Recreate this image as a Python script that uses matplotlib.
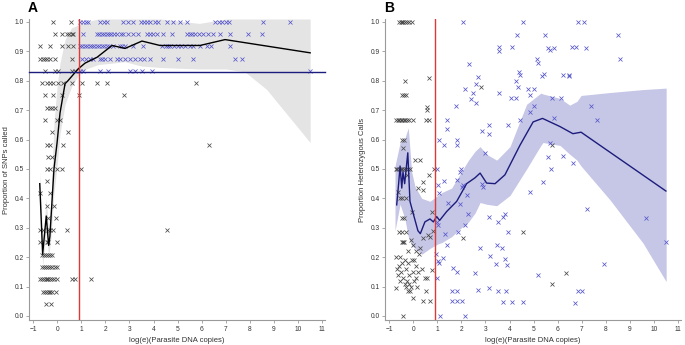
import matplotlib
matplotlib.use("Agg")
import matplotlib.pyplot as plt

plt.rcParams['font.family'] = ['Liberation Sans', 'DejaVu Sans']

# ---------- panel A data ----------
a_black_x = [-0.17, 0.58,
             -0.09, 0.2, 0.4, 0.5, 0.6, 0.66,
             -0.71, -0.29, 0.2, 0.45, 0.66,
             -0.71, -0.6, -0.5, -0.4, -0.3, -0.1, 0.62,
             -0.5, -0.09, 0.04, 0.62, 0.74,
             -0.63, -0.42, -0.29, -0.17, 0.04, 0.24, 0.62, 1.03, 1.66, 2.07, 5.76,
             -0.5, -0.17, 0.2, 0.91, 2.78,
             -0.42, -0.3, -0.2, -0.08,
             -0.5, 0.0, 0.12,
             -0.21, 0.45,
             -0.42, -0.29, 0.24, 6.3,
             -0.38, -0.2,
             -0.42, -0.29, 0.0, 0.2, 0.99,
             -0.42,
             -0.71, -0.29,
             -0.42, -0.13,
             -0.38, -0.05,
             -0.71, -0.58, -0.38, -0.29, -0.17, 0.41, 4.55,
             -0.71, -0.42, -0.38, 0.0,
             -0.63, -0.55, -0.47, -0.38, -0.3, -0.22,
             -0.63, -0.55, -0.47, -0.38, -0.3, -0.2, -0.1, 0.0,
             -0.7, -0.63, -0.55, -0.48, -0.42, -0.36, -0.3, -0.22, -0.12, 0.0, 0.62, 0.74, 1.4,
             -0.6, -0.5, -0.42, -0.35, -0.28, -0.2, -0.05,
             -0.46, -0.25]
a_black_y = [1.0, 1.0,
             0.958, 0.958, 0.958, 0.958, 0.958, 0.958,
             0.917, 0.917, 0.917, 0.917, 0.917,
             0.875, 0.875, 0.875, 0.875, 0.875, 0.875, 0.875,
             0.833, 0.833, 0.833, 0.833, 0.833,
             0.792, 0.792, 0.792, 0.792, 0.792, 0.792, 0.792, 0.792, 0.792, 0.792, 0.792,
             0.75, 0.75, 0.75, 0.75, 0.75,
             0.708, 0.708, 0.708, 0.708,
             0.667, 0.667, 0.667,
             0.625, 0.625,
             0.583, 0.583, 0.583, 0.583,
             0.542, 0.542,
             0.5, 0.5, 0.5, 0.5, 0.5,
             0.458,
             0.417, 0.417,
             0.375, 0.375,
             0.333, 0.333,
             0.292, 0.292, 0.292, 0.292, 0.292, 0.292, 0.292,
             0.25, 0.25, 0.25, 0.25,
             0.208, 0.208, 0.208, 0.208, 0.208, 0.208,
             0.167, 0.167, 0.167, 0.167, 0.167, 0.167, 0.167, 0.167,
             0.125, 0.125, 0.125, 0.125, 0.125, 0.125, 0.125, 0.125, 0.125, 0.125, 0.125, 0.125, 0.125,
             0.083, 0.083, 0.083, 0.083, 0.083, 0.083, 0.083,
             0.042, 0.042]

a_blue_x = [0.97, 1.08, 1.2, 1.3, 1.8, 1.95, 2.05, 2.75, 2.95, 3.15, 3.5, 3.6, 3.75, 3.85,
            4.05, 4.2, 4.55, 4.8, 5.1, 5.4, 6.55, 6.7, 6.85, 7.0, 7.15, 8.55, 9.65,
            1.07, 1.65, 1.75, 1.85, 1.95, 2.05, 2.15, 2.25, 2.35, 2.5, 2.65, 2.75, 2.95, 3.15,
            3.36, 3.75, 3.85, 3.98, 4.15, 4.4, 4.77, 5.4, 5.5, 5.6, 5.72, 5.88, 6.05, 6.28,
            6.45, 6.76, 7.17, 7.92, 8.5,
            0.95, 1.05, 1.15, 1.25, 1.35, 1.45, 1.55, 1.65, 1.75, 1.85, 1.95, 2.05, 2.15, 2.3,
            2.6, 2.7, 2.8, 3.15, 3.56, 4.35, 4.5, 4.6, 4.7, 4.85, 5.0, 5.15, 5.3, 5.5, 5.65,
            5.93, 6.2, 6.4, 7.17,
            1.03, 1.2, 1.35, 1.5, 1.78, 1.85, 2.0, 2.2, 2.5, 2.6, 2.82, 3.02, 3.23, 3.44, 3.6,
            3.85, 4.4, 5.02, 5.64, 7.38, 7.67,
            0.95, 1.07, 1.78, 2.11, 3.02, 3.23, 3.52, 3.94, 10.5]
a_blue_y = ([1.0] * 27 + [0.958] * 33 + [0.917] * 33 + [0.875] * 21 + [0.833] * 9)

a_fit_x = [-0.72, -0.6, -0.45, -0.35, -0.3, -0.13, 0.0, 0.12, 0.33, 0.45, 0.87, 1.16,
           1.66, 2.28, 2.82, 3.52, 4.27, 5.93, 6.97, 10.5]
a_fit_y = [0.45, 0.21, 0.34, 0.24, 0.27, 0.50, 0.59, 0.69, 0.79, 0.80, 0.84, 0.86,
           0.88, 0.92, 0.91, 0.935, 0.92, 0.92, 0.94, 0.895]

a_band_x = [-0.72, -0.6, -0.45, -0.35, -0.25, -0.13, 0.0, 0.12, 0.33, 0.6, 0.9, 1.2,
            1.7, 2.3, 2.8, 3.5, 4.3, 5.9, 7.0, 7.8, 8.7, 9.3, 10.5]
a_band_lo = [0.41, 0.17, 0.29, 0.20, 0.27, 0.42, 0.51, 0.62, 0.72, 0.78, 0.82, 0.84,
             0.855, 0.86, 0.865, 0.85, 0.845, 0.84, 0.84, 0.83, 0.77, 0.71, 0.59]
a_band_hi = [0.49, 0.26, 0.40, 0.29, 0.40, 0.66, 0.78, 0.86, 0.94, 0.98, 0.99, 1.0,
             1.01, 1.01, 1.01, 1.01, 1.01, 0.995, 1.01, 1.01, 1.01, 1.01, 1.01]

a_threshold_x = 0.92
a_threshold_y = 0.83

# ---------- panel B data ----------
b_black_x = [-0.58, -0.5, -0.45, -0.4, -0.33, -0.25, -0.15, -0.05,
             0.66, -0.33, -0.48, -0.38, -0.28, 0.58, 0.56,
             -0.72, -0.64, -0.57, -0.5, -0.44, -0.38, -0.32, -0.25, -0.15, 0.0, 0.53, 0.68,
             -0.47, -0.38, -0.42, 0.08, 0.3,
             -0.72, -0.66, -0.58, -0.5, -0.44, -0.38, -0.3, -0.22, -0.12, 0.88,
             -0.27, 0.66, 0.42, 0.2, 0.4, -0.62, -0.55, -0.45, -0.3,
             -0.06, 0.77, -0.45, -0.38, 0.84, -0.58, -0.45, -0.3, 0.6, 0.7, 0.42,
             -0.48, -0.42, -0.38, -0.1, 0.0, 0.12, -0.2, 0.25, 0.3,
             -0.7, -0.55, -0.35, -0.05, 0.05, -0.45, -0.2, -0.6, 0.1, -0.68, -0.3, 0.35,
             -0.5, 0.0, 0.2, 0.77, -0.62, -0.15, -0.4, 0.1, 0.5, 0.58,
             -0.55, -0.25, 0.05, -0.35, -0.18, -0.3, -0.1, 0.15, -0.7,
             -0.2, -0.14, 0.54, 0.0, 0.42, 0.7, -0.4,
             2.8, 2.06, 4.55, 5.75, 5.77, 6.33]
b_black_y = [1.0, 1.0, 1.0, 1.0, 1.0, 1.0, 1.0, 1.0,
             0.81, 0.80, 0.75, 0.75, 0.75, 0.71, 0.70,
             0.667, 0.667, 0.667, 0.667, 0.667, 0.667, 0.667, 0.667, 0.667, 0.667, 0.667, 0.667,
             0.60, 0.60, 0.57, 0.53, 0.53,
             0.5, 0.5, 0.5, 0.5, 0.5, 0.5, 0.5, 0.5, 0.5, 0.5,
             0.48, 0.48, 0.457, 0.435, 0.43, 0.42, 0.40, 0.40, 0.40,
             0.355, 0.355, 0.333, 0.333, 0.29, 0.286, 0.286, 0.286, 0.275, 0.27, 0.265,
             0.25, 0.25, 0.25, 0.26, 0.24, 0.22, 0.22, 0.21, 0.23,
             0.2, 0.2, 0.19, 0.19, 0.19, 0.18, 0.18, 0.17, 0.17, 0.16, 0.16, 0.16,
             0.15, 0.15, 0.15, 0.156, 0.14, 0.14, 0.13, 0.13, 0.13, 0.13,
             0.12, 0.12, 0.12, 0.11, 0.11, 0.1, 0.1, 0.1, 0.095,
             0.085, 0.085, 0.085, 0.062, 0.05, 0.05, 0.0,
             0.78, 0.266, 0.287, 0.58, 0.11, 0.146]

b_blue_x = [1.0, 2.06, 4.57, 6.86, 7.09, 4.33, 5.48, 8.51,
            3.58, 3.58, 4.1, 5.6, 5.7, 5.85, 6.61, 6.74, 7.17,
            2.33, 5.15, 5.18, 8.58,
            4.27, 4.37, 4.4, 4.45, 5.33, 5.43, 6.2, 6.45, 6.48, 2.7, 2.6,
            2.15, 2.5, 3.58, 4.78, 5.02, 4.85,
            2.39, 2.6, 4.08, 4.26, 5.75, 6.12,
            1.78, 5.03, 7.38, 4.83, 5.85,
            1.39, 4.43, 7.64, 1.39,
            3.16, 3.16, 2.87, 3.95,
            1.09, 1.28, 1.83, 1.83, 5.68,
            5.59, 6.2, 6.62, 5.74, 2.98, 1.97, 1.95,
            5.38, 4.85, 2.85, 2.91, 2.06,
            1.05, 1.28, 1.09, 1.46, 1.81, 2.02, 2.22, 1.95,
            7.2, 9.65, 3.16, 3.51, 3.73, 3.83, 0.98, 1.02,
            1.32, 1.88, 2.15, 2.29, 3.95,
            10.49, 1.39, 2.78, 3.19, 3.47, 3.68,
            0.94, 1.05, 1.08, 1.25, 3.8, 3.9, 3.44, 7.93,
            1.67, 1.81, 5.2, 2.57, 0.98,
            1.6, 1.81, 2.71, 3.16, 3.54, 3.86, 6.86, 7.0,
            1.6, 1.81, 2.04, 3.74, 4.09, 4.57, 6.72,
            1.12, 2.15]
b_blue_y = [0.5, 1.0, 1.0, 1.0, 1.0, 0.957, 0.957, 0.957,
            0.916, 0.9, 0.916, 0.91, 0.905, 0.913, 0.916, 0.916, 0.913,
            0.857, 0.873, 0.862, 0.874,
            0.8, 0.78, 0.83, 0.82, 0.817, 0.822, 0.82, 0.82, 0.815, 0.813, 0.79,
            0.772, 0.76, 0.76, 0.772, 0.772, 0.75,
            0.738, 0.725, 0.74, 0.74, 0.74, 0.74,
            0.714, 0.714, 0.714, 0.695, 0.674,
            0.667, 0.667, 0.667, 0.637,
            0.65, 0.62, 0.63, 0.65,
            0.6, 0.58, 0.6, 0.58, 0.587,
            0.54, 0.545, 0.52, 0.5, 0.555, 0.5, 0.49,
            0.455, 0.423, 0.45, 0.44, 0.445,
            0.446, 0.46, 0.417, 0.383, 0.462, 0.44, 0.41, 0.38,
            0.364, 0.334, 0.338, 0.32, 0.338, 0.348, 0.32, 0.31,
            0.28, 0.287, 0.31, 0.347, 0.287,
            0.253, 0.24, 0.23, 0.205, 0.24, 0.23,
            0.21, 0.187, 0.18, 0.197, 0.195, 0.175, 0.178, 0.176,
            0.163, 0.15, 0.14, 0.145, 0.128,
            0.085, 0.085, 0.088, 0.094, 0.086, 0.086, 0.085, 0.085,
            0.051, 0.051, 0.051, 0.047, 0.047, 0.047, 0.045,
            0.0, 0.0]

b_fit_x = [-0.68, -0.6, -0.54, -0.47, -0.42, -0.35, -0.22, -0.13, 0.0, 0.2, 0.3, 0.49,
           0.7, 0.84, 0.98, 1.1, 1.39, 1.81, 2.22, 2.57, 2.78, 3.05, 3.4, 3.81, 4.43,
           4.98, 5.37, 6.1, 6.63, 6.97, 10.49]
b_fit_y = [0.378, 0.45, 0.51, 0.435, 0.49, 0.45, 0.555, 0.39, 0.35, 0.29, 0.28, 0.32,
           0.33, 0.32, 0.338, 0.325, 0.355, 0.39, 0.45, 0.47, 0.486, 0.452, 0.45, 0.48, 0.58,
           0.66, 0.672, 0.644, 0.62, 0.625, 0.425]

b_band_x = [-0.75, -0.54, -0.34, -0.2, -0.06, 0.08, 0.36, 0.7, 1.03, 1.2, 1.6, 2.0, 2.3,
            2.57, 2.78, 3.05, 3.47, 4.02, 4.71, 5.3, 5.39, 6.1, 6.5, 6.8, 6.97, 8.17, 9.54, 10.5]
b_band_lo = [0.29, 0.38, 0.33, 0.27, 0.24, 0.23, 0.21, 0.23, 0.245, 0.25, 0.27, 0.30, 0.32,
             0.35, 0.386, 0.38, 0.375, 0.41, 0.50, 0.58, 0.59, 0.58, 0.55, 0.53, 0.51, 0.395,
             0.248, 0.117]
b_band_hi = [0.51, 0.59, 0.605, 0.64, 0.49, 0.44, 0.40, 0.39, 0.41, 0.42, 0.435, 0.49, 0.53,
             0.56, 0.576, 0.55, 0.53, 0.576, 0.72, 0.758, 0.755, 0.74, 0.717, 0.73, 0.75, 0.76,
             0.77, 0.775]

b_threshold_x = 0.92

x_ticks = list(range(-1, 12))
y_ticks = [0.0, 0.1, 0.2, 0.3, 0.4, 0.5, 0.6, 0.7, 0.8, 0.9, 1.0]

RED = '#dc3a36'
NAVY = '#1c1c7c'
BLUE_MK = '#5858cc'
BLACK_MK = '#4a4a4a'

fig = plt.figure(figsize=(6.85, 3.45), dpi=100, facecolor='white')
axA = fig.add_axes([0.0429, 0.0713, 0.431, 0.8736])
axB = fig.add_axes([0.5626, 0.0713, 0.431, 0.8736])


def style_axes(ax, ylabel):
    ax.set_xlim(-1.15, 11.1)
    ax.set_ylim(-0.015, 1.01)
    for s in ['top', 'right']:
        ax.spines[s].set_visible(False)
    for s in ['left', 'bottom']:
        ax.spines[s].set_color('#9a9a9a')
        ax.spines[s].set_linewidth(0.8)
    ax.set_xticks(x_ticks)
    ax.set_yticks(y_ticks)
    ax.set_yticklabels(['%.1f' % v for v in y_ticks])
    ax.tick_params(axis='both', labelsize=4.8, length=2, width=0.6,
                   colors='#9a9a9a', labelcolor='#333333', pad=2)
    ax.set_xlabel('log(e)(Parasite DNA copies)', fontsize=5.5, color='#333333', labelpad=3)
    ax.set_ylabel(ylabel, fontsize=5.5, color='#333333', labelpad=3)


# panel A
axA.fill_between(a_band_x, a_band_lo, a_band_hi, color='#e4e4e4', lw=0, zorder=1)
axA.plot(a_black_x, a_black_y, 'x', color=BLACK_MK, ms=3.0, mew=0.55, zorder=2)
axA.plot(a_blue_x, a_blue_y, 'x', color=BLUE_MK, ms=3.0, mew=0.55, zorder=2)
axA.plot(a_fit_x, a_fit_y, color='black', lw=1.0, zorder=3)
axA.axvline(a_threshold_x, color=RED, lw=1.0, zorder=4)
axA.plot([-1.15, 11.1], [a_threshold_y, a_threshold_y], color=NAVY, lw=1.0, zorder=4,
         clip_on=False)
style_axes(axA, 'Proportion of SNPs called')

# panel B
axB.fill_between(b_band_x, b_band_lo, b_band_hi, color='#c6c6e6', lw=0, zorder=1)
axB.plot(b_black_x, b_black_y, 'x', color=BLACK_MK, ms=3.0, mew=0.55, zorder=2)
axB.plot(b_blue_x, b_blue_y, 'x', color=BLUE_MK, ms=3.0, mew=0.55, zorder=2)
axB.plot(b_fit_x, b_fit_y, color=NAVY, lw=1.0, zorder=3)
axB.axvline(b_threshold_x, color=RED, lw=1.0, zorder=4)
style_axes(axB, 'Proportion Heterozygous Calls')

fig.text(0.048, 0.978, 'A', fontsize=10, fontweight='bold', ha='center', va='center')
fig.text(0.568, 0.978, 'B', fontsize=10, fontweight='bold', ha='center', va='center')

fig.savefig('out.png', dpi=100, facecolor='white')
